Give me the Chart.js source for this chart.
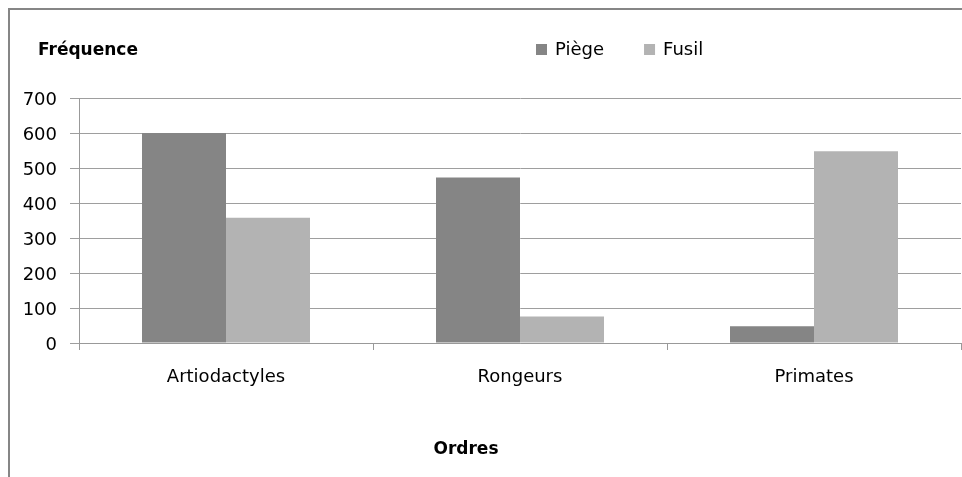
<!DOCTYPE html>
<html>
<head>
<meta charset="utf-8">
<script src="https://cdn.jsdelivr.net/npm/chart.js@4/dist/chart.umd.min.js"></script>
<style>
  html, body { margin: 0; padding: 0; background: #fff; }
  .wrap { position: relative; width: 962px; height: 477px; overflow: hidden; }
  .frame { position: absolute; left: 8px; top: 8px; width: 1000px; height: 500px;
           border-left: 2px solid #868686; border-top: 2px solid #868686; }
  canvas { position: absolute; left: 0; top: 0; }
</style>
</head>
<body>
<div class="wrap">
  <div class="frame"></div>
  <canvas id="myChart" width="962" height="477"></canvas>
</div>
<script>
'use strict';

const categories = ['Artiodactyles', 'Rongeurs', 'Primates'];
const piege = [600, 473, 48];
const fusil = [358, 76, 548];
const seriesNames = ['Piège', 'Fusil'];
const yTicks = [0, 100, 200, 300, 400, 500, 600, 700];

const yTitle = 'Fréquence',
      xTitle = 'Ordres';

const fontFamily = '"DejaVu Sans", sans-serif';

// titles and legend are drawn by hand, the Excel layout puts them on one row
const titlesPlugin = {
    id: 'titles',
    afterDraw(chart) {
        const c = chart.ctx;
        c.save();
        c.fillStyle = '#000';
        c.textBaseline = 'alphabetic';

        c.font = 'bold 17px ' + fontFamily;
        c.textAlign = 'left';
        c.fillText(yTitle, 38, 55);

        c.textAlign = 'center';
        c.fillText(xTitle, 466, 454);

        c.font = '18px ' + fontFamily;
        c.textAlign = 'left';
        let x = 536;
        chart.data.datasets.forEach((ds) => {
            c.fillStyle = ds.backgroundColor;
            c.fillRect(x, 44, 11, 11);
            c.fillStyle = '#000';
            c.fillText(ds.label, x + 19, 55);
            x += 19 + c.measureText(ds.label).width + 40;
        });
        c.restore();
    }
};

const ctx = document.querySelector('#myChart').getContext('2d');

var myChart = new Chart(ctx, {
    type: 'bar',
    data: {
        labels: categories,
        datasets: [{
            label: seriesNames[0],
            data: piege,
            backgroundColor: '#858585',
            categoryPercentage: 0.5714,
            barPercentage: 1
        }, {
            label: seriesNames[1],
            data: fusil,
            backgroundColor: '#b3b3b3',
            categoryPercentage: 0.5714,
            barPercentage: 1
        }]
    },
    options: {
        responsive: false,
        animation: false,
        layout: {
            padding: { top: 98, right: 1, left: 0, bottom: 0 }
        },
        plugins: {
            legend: { display: false },
            title: { display: false },
            tooltip: { enabled: false }
        },
        scales: {
            x: {
                afterFit: (scale) => { scale.height = 134; },
                grid: {
                    offset: true,
                    drawOnChartArea: false,
                    tickLength: 7,
                    color: '#999'
                },
                border: { display: true, color: '#999' },
                ticks: {
                    color: '#000',
                    padding: 17,
                    font: { family: fontFamily, size: 18 }
                }
            },
            y: {
                min: 0,
                max: 700,
                afterFit: (scale) => { scale.width = 79; },
                afterBuildTicks: (scale) => {
                    scale.ticks = yTicks.map(v => ({ value: v }));
                },
                grid: {
                    color: '#9e9e9e',
                    tickLength: 9
                },
                border: { display: true, color: '#999' },
                ticks: {
                    color: '#000',
                    padding: 13,
                    labelOffset: 2,
                    font: { family: fontFamily, size: 18 }
                }
            }
        }
    },
    plugins: [titlesPlugin]
});
</script>
</body>
</html>
